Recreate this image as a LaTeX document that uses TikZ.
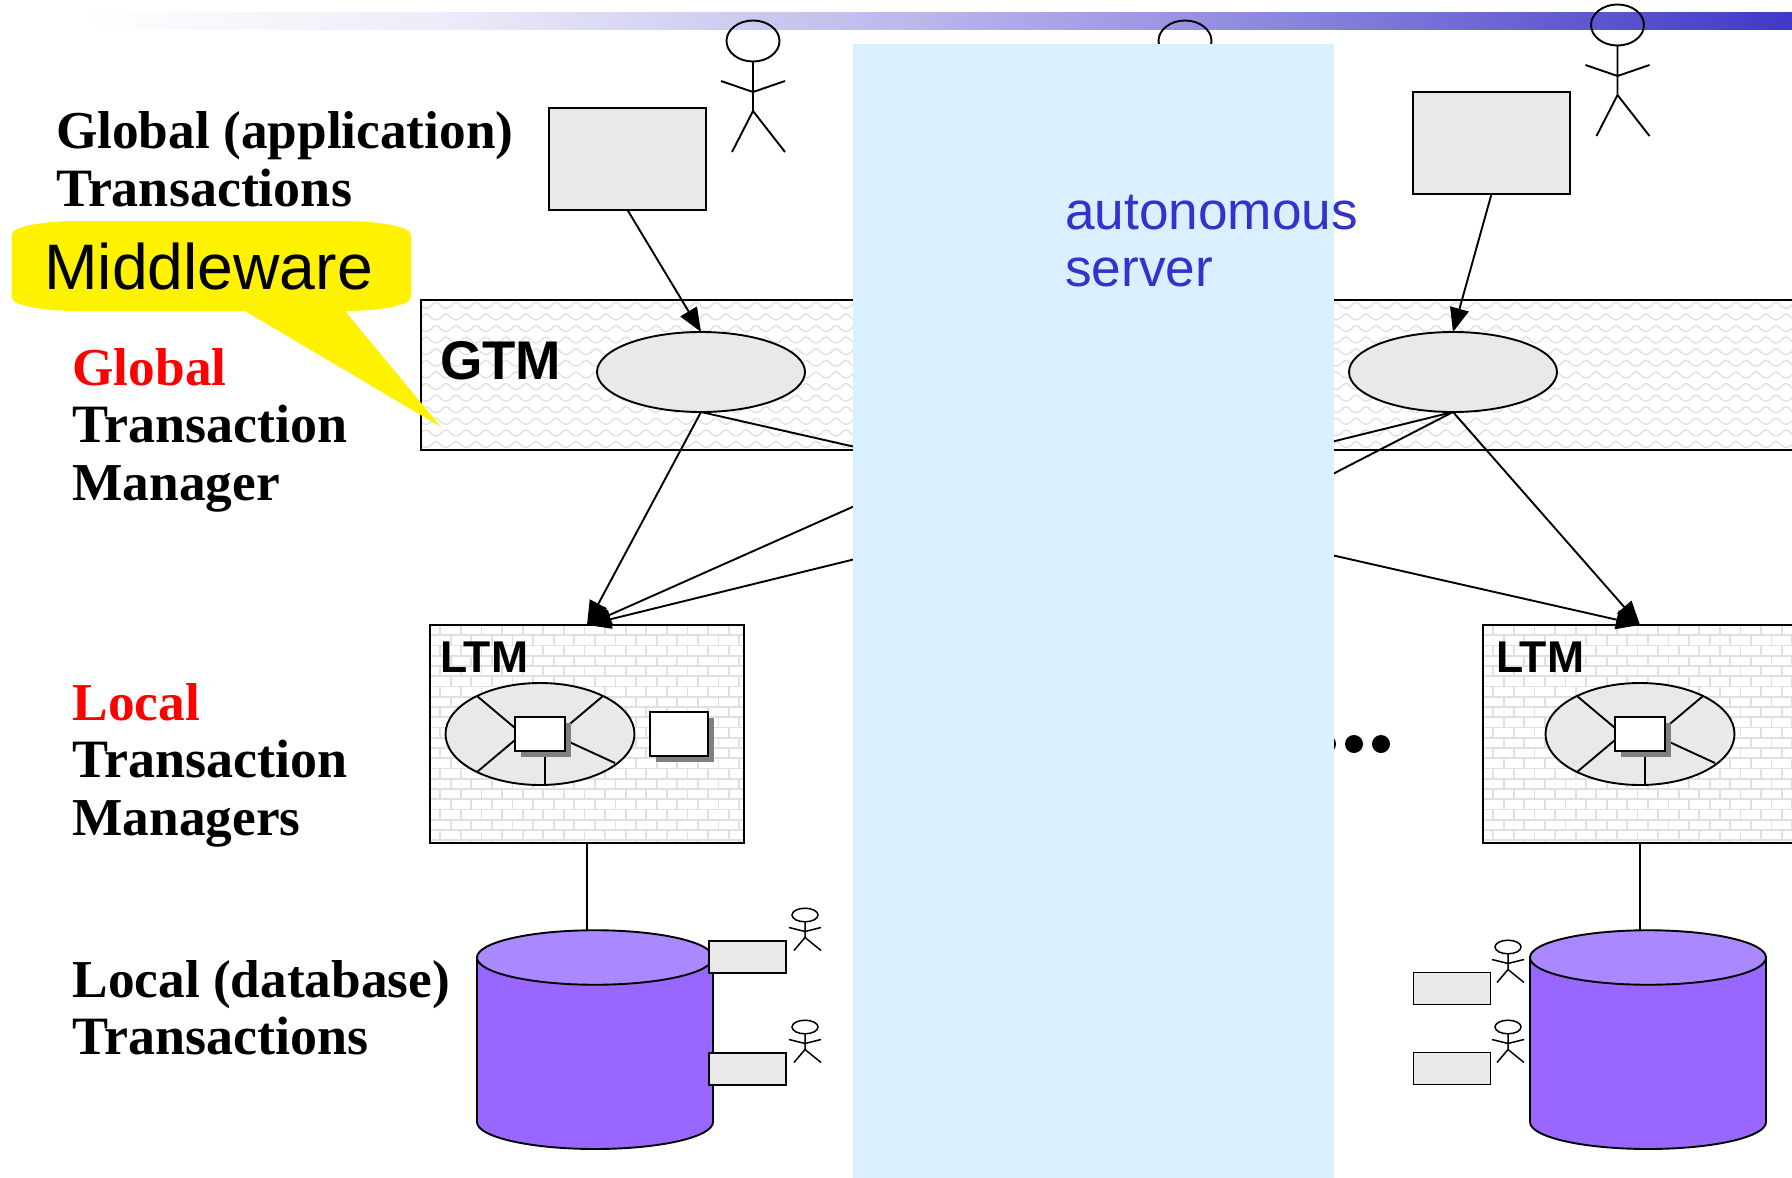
\documentclass[tikz,border=0pt]{standalone}
\usepackage{fontspec}
\setmainfont{Liberation Serif}
\setsansfont{Liberation Sans}
\usetikzlibrary{arrows.meta,shapes.geometric,shadows}
\definecolor{barblue}{HTML}{4038C8}
\definecolor{panelblue}{HTML}{D8F0FF}
\definecolor{boxgray}{HTML}{E9E9E9}
\definecolor{texgray}{HTML}{E0E0E0}
\definecolor{shadowgray}{HTML}{808080}
\definecolor{cylbody}{HTML}{9966FF}
\definecolor{cyltop}{HTML}{AA88FF}
\definecolor{autoblue}{HTML}{3333CC}
\newcommand{\wideword}[1]{{\fontsize{54}{57.5}\selectfont #1}}
\tikzset{
  ln/.style={line width=1.9pt,draw=black},
  graybox/.style={rectangle,ln,fill=boxgray,inner sep=0pt,outer sep=0pt},
  grayell/.style={ellipse,ln,fill=boxgray,inner sep=0pt,outer sep=0pt},
  whitebox/.style={rectangle,ln,fill=white,inner sep=0pt,outer sep=0pt,
    general shadow={shadow xshift=6pt,shadow yshift=-5.5pt,fill=shadowgray}},
  texbox/.style={rectangle,fill=white,inner sep=0pt,outer sep=0pt},
  conn/.style={line width=1.9pt,-{Triangle[length=24pt,width=19pt]}},
  plainconn/.style={line width=1.9pt},
  label/.style={anchor=base west,inner sep=0pt,outer sep=0pt,align=left,
    font=\bfseries\fontsize{53.3}{57.5}\selectfont},
  ltmlabel/.style={anchor=base west,inner sep=0pt,outer sep=0pt,
    font=\sffamily\bfseries\fontsize{44.5}{44.5}\selectfont},
  bigperson/.pic={
    \draw[line width=1.9pt] (0,0) ellipse[x radius=26.5,y radius=20.5];
    \draw[line width=1.9pt] (0,20.5) -- (0,70) (-32,40) -- (0,51) -- (32,40) (-21,111) -- (0,70) -- (32,111);
  },
  smallperson/.pic={
    \draw[line width=1.5pt] (0,0) ellipse[x radius=13,y radius=6.8];
    \draw[line width=1.5pt] (0,6.8) -- (0,22.5) (-16,12.5) -- (0,16.5) (16,12.5) -- (0,16.5) (-11,35.5) -- (0,22.5) -- (16,35.5);
  },
}
\begin{document}
\begin{tikzpicture}[x=1pt,y=-1pt]
\clip (0,0) rectangle (1792,1178);
\fill[white] (0,0) rectangle (1792,1178);
% title bar
\shade[left color=white,right color=barblue!10!white,shading angle=90] (80,12.5) rectangle (450.5,29);
\shade[left color=barblue!10!white,right color=barblue!35!white,shading angle=90] (450,12.5) rectangle (900.5,29);
\shade[left color=barblue!35!white,right color=barblue!62!white,shading angle=90] (900,12.5) rectangle (1300.5,29);
\shade[left color=barblue!62!white,right color=barblue,shading angle=90] (1300,12.5) rectangle (1792,29);
% application level
\pic at (753,41) {bigperson};
\pic at (1185,41) {bigperson};
\pic at (1617.5,25) {bigperson};
\node[graybox,minimum width=157pt,minimum height=102pt] (app1) at (627.5,159) {};
\node[graybox,minimum width=157pt,minimum height=102pt] (app2) at (1491.5,143) {};
% GTM band
\node[texbox,minimum width=1385pt,minimum height=150pt] (gtm) at (1113.5,375) {};
\begin{scope}
  \clip (gtm.south west) rectangle (gtm.north east);
  \foreach \r in {0,...,12} {
    \pgfmathsetmacro{\yy}{306+11.6*\r}
    \pgfmathsetmacro{\ph}{421+10*mod(\r,2)-10}
    \draw[texgray,line width=1.3pt] (\ph,\yy)
      \foreach \k in {0,...,69} {
        .. controls ({\ph+20*\k+4},{\yy-5}) and ({\ph+20*\k+6},{\yy-5}) .. ({\ph+20*\k+10},\yy)
        .. controls ({\ph+20*\k+14},{\yy+3}) and ({\ph+20*\k+16},{\yy+3}) .. ({\ph+20*\k+20},\yy)
      };
  }
\end{scope}
\draw[ln] (gtm.south west) rectangle (gtm.north east);
\node[anchor=base west,inner sep=0pt,font=\sffamily\bfseries\fontsize{54.5}{54.5}\selectfont] (gtmlabel) at (440,379) {GTM};
\node[grayell,minimum width=208pt,minimum height=80pt] (e1) at (701,372) {};
\node[grayell,minimum width=208pt,minimum height=80pt] (e2) at (1453,372) {};
% LTM boxes
\foreach \bx/\ox/\lx/\n in {0/0/0/a,1053/1100/1056/b} {
  \node[texbox,minimum width=314pt,minimum height=218pt] (ltm\n) at ({587+\bx},734) {};
  \begin{scope}
    \clip (ltm\n.south west) rectangle (ltm\n.north east);
    \foreach \r in {0,...,21} {
      \pgfmathsetmacro{\yy}{625+10.25*\r}
      \pgfmathsetmacro{\st}{430+\bx+10.3*mod(\r+1,2)}
      \draw[texgray,line width=1.8pt] ({430+\bx},\yy) -- ({744+\bx},\yy);
      \foreach \k in {0,...,15} {
        \draw[texgray,line width=1.8pt] ({\st+20.6*\k},\yy) -- ({\st+20.6*\k},{\yy+10.25});
      }
    }
  \end{scope}
  \draw[ln] (ltm\n.south west) rectangle (ltm\n.north east);
  \node[ltmlabel] (ltml\n) at ({440+\lx},672.5) {LTM};
  \node[grayell,minimum width=189pt,minimum height=102pt] (inner\n) at ({540+\ox},734) {};
  \draw[ln] ({477+\ox},696) -- ({515+\ox},728)
            ({603+\ox},696) -- ({565+\ox},728)
            ({477+\ox},772) -- ({515+\ox},740)
            ({565+\ox},740) -- ({615+\ox},763)
            ({545+\ox},751) -- ({545+\ox},785);
  \node[whitebox,minimum width=50pt,minimum height=34pt] (core\n) at ({540+\ox},734) {};
}
\node[whitebox,minimum width=58pt,minimum height=44pt] (extra) at (679,734) {};
% cylinders
\foreach \cx/\n in {595/a,1648/b} {
  \draw[ln,fill=cylbody] ({\cx-118},957) -- ({\cx-118},1122)
    .. controls ({\cx-118},1137) and ({\cx-65},1149) .. (\cx,1149)
    .. controls ({\cx+65},1149) and ({\cx+118},1137) .. ({\cx+118},1122)
    -- ({\cx+118},957) -- cycle;
  \node[ellipse,ln,fill=cyltop,inner sep=0pt,outer sep=0pt,minimum width=236pt,minimum height=54.5pt] (cyl\n) at (\cx,957.5) {};
}
\coordinate (topa) at (587,930);
\coordinate (topb) at (1640,930);
\draw[plainconn] (ltma.south) -- (topa);
\draw[plainconn] (ltmb.south) -- (topb);
% small clients
\foreach \nm/\bx/\by in {sa/747.5/957,sb/747.5/1069,sc/1452/988.5,sd/1452/1068.5} {
  \node[graybox,minimum width=77pt,minimum height=32pt] (\nm) at (\bx,\by) {};
}
\pic at (805,915) {smallperson};
\pic at (805,1027) {smallperson};
\pic at (1508,947) {smallperson};
\pic at (1508,1027) {smallperson};
% connectors
\coordinate (midbottom) at (1066,412);
\coordinate (midltm) at (1040,625);
\draw[conn] (app1.south) -- (e1.north);
\draw[conn] (app2.south) -- (e2.north);
\draw[conn] (e1.south) -- (ltma.north);
\draw[conn] (midbottom) -- (ltma.north);
\draw[conn] (e2.south) -- (ltma.north);
\draw[conn] (e1.south) -- (ltmb.north);
\draw[conn] (e2.south) -- (ltmb.north);
\draw[plainconn] (e2.south) -- (midltm);
% ellipsis
\node[circle,fill=black,minimum size=18pt,inner sep=0pt] (dot1) at (1327,744) {};
\node[circle,fill=black,minimum size=18pt,inner sep=0pt] (dot2) at (1354,744) {};
\node[circle,fill=black,minimum size=18pt,inner sep=0pt] (dot3) at (1381,744) {};
% panel
\node[rectangle,fill=panelblue,inner sep=0pt,outer sep=0pt,minimum width=481pt,minimum height=1134pt] (panel) at (1093.5,611) {};
\node[anchor=base west,inner sep=0pt,align=left,text=autoblue,font=\sffamily\fontsize{53.2}{57.5}\selectfont] (auto) at (1065,286.5) {autonomous\\server};
% labels
\node[label] (t1) at (56,206) {Global (application)\\\wideword{Transactions}};
\node[label] (t2) at (72.5,500) {\textcolor{red}{Global}\\\wideword{Transaction}\\Manager};
\node[label] (t3) at (72.5,835) {\textcolor{red}{Local}\\\wideword{Transaction}\\Managers};
\node[label] (t4) at (72.5,1054.5) {Local (database)\\\wideword{Transactions}};
% callout
\fill[yellow] (11.5,235) .. controls (11.5,226) and (45,221) .. (80,221) -- (342,221)
  .. controls (377,221) and (411,226) .. (411,235) -- (411,297)
  .. controls (411,306) and (377,311) .. (345,311) -- (441,427) -- (245,311) -- (80,311)
  .. controls (45,311) and (11.5,306) .. (11.5,297) -- cycle;
\node[anchor=base west,inner sep=0pt,font=\sffamily\fontsize{64.3}{64.3}\selectfont] (mw) at (44,289.5) {Middleware};
\end{tikzpicture}
\end{document}
